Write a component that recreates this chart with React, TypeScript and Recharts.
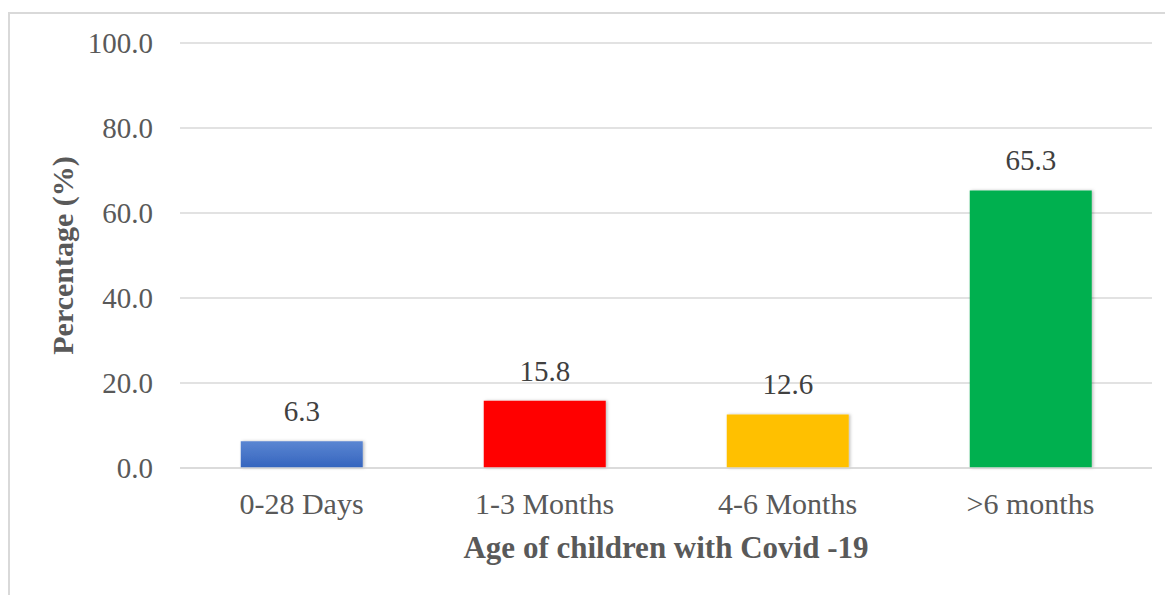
import React from "react";
import { BarChart, Bar, XAxis, YAxis, CartesianGrid, Cell, LabelList } from "recharts";

const categories = ["0-28 Days", "1-3 Months", "4-6 Months", ">6 months"];
const percentages = [6.3, 15.8, 12.6, 65.3];
const barColors = ["url(#blueGrad)", "#FF0000", "#FFC000", "#00B050"];
const yTicks = [0, 20, 40, 60, 80, 100];

const data = categories.map((c, i) => ({ name: c, value: percentages[i] }));

const FONT = "'Liberation Serif', 'DejaVu Serif', serif";

export default function App() {
  return (
    <div style={{ position: "relative", width: 1165, height: 587, fontFamily: FONT }}>
      <div
        style={{
          position: "absolute",
          left: 0,
          top: 4,
          width: 1165,
          height: 583,
          borderTop: "2px solid #d9d9d9",
          borderLeft: "2px solid #d9d9d9",
          boxSizing: "border-box",
        }}
      />
      <div style={{ position: "absolute", left: 0, top: 0 }}>
        <BarChart
          width={1165}
          height={587}
          data={data}
          margin={{ top: 35, right: 21, bottom: 0, left: 0 }}
          barCategoryGap="25%"
        >
          <defs>
            <linearGradient id="blueGrad" x1="0" y1="0" x2="0" y2="1">
              <stop offset="0%" stopColor="#5B86D2" />
              <stop offset="100%" stopColor="#3464BE" />
            </linearGradient>
            <filter id="shadow" x="-10%" y="-10%" width="120%" height="120%">
              <feDropShadow dx="1.5" dy="0" stdDeviation="1.5" floodColor="#000" floodOpacity="0.25" />
            </filter>
          </defs>
          <CartesianGrid vertical={false} stroke="#d9d9d9" strokeWidth={1.5} />
          <XAxis
            dataKey="name"
            height={127}
            tickLine={false}
            tickSize={0}
            tickMargin={25}
            axisLine={{ stroke: "#d9d9d9", strokeWidth: 1.5 }}
            tick={{ fill: "#595959", fontSize: 30, fontFamily: FONT }}
            interval={0}
            label={{
              value: "Age of children with Covid -19",
              position: "insideBottom",
              offset: 37,
              fill: "#595959",
              fontSize: 31,
              fontWeight: "bold",
              fontFamily: FONT,
            }}
          />
          <YAxis
            width={172}
            domain={[0, 100]}
            ticks={yTicks}
            tickFormatter={(v: number) => v.toFixed(1)}
            tickLine={false}
            tickSize={0}
            tickMargin={27}
            axisLine={false}
            tick={{ fill: "#595959", fontSize: 29, fontFamily: FONT }}
            label={{
              value: "Percentage (%)",
              angle: -90,
              position: "insideLeft",
              offset: 54,
              style: { textAnchor: "middle" },
              fill: "#595959",
              fontSize: 30,
              fontWeight: "bold",
              fontFamily: FONT,
            }}
          />
          <Bar dataKey="value" isAnimationActive={false} filter="url(#shadow)">
            {data.map((d, i) => (
              <Cell key={d.name} fill={barColors[i]} />
            ))}
            <LabelList
              dataKey="value"
              position="top"
              offset={20}
              formatter={(v: number) => v.toFixed(1)}
              fill="#404040"
              fontSize={29}
              fontFamily={FONT}
            />
          </Bar>
        </BarChart>
      </div>
    </div>
  );
}
